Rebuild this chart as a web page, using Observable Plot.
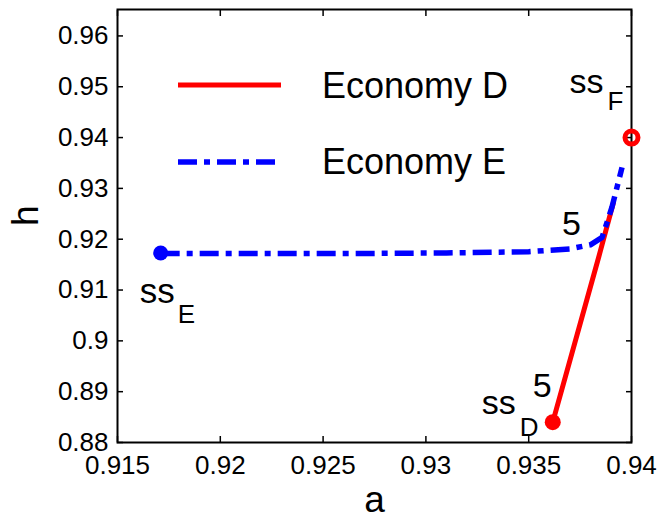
<!DOCTYPE html>
<html><head><meta charset="utf-8">
<script src="https://cdn.jsdelivr.net/npm/d3@7"></script>
<script src="https://cdn.jsdelivr.net/npm/@observablehq/plot@0.6"></script>
<style>
body{margin:0;background:#fff}
#chart{position:relative;width:659px;height:518px}
</style>
</head><body><div id="chart"></div>
<script>
// ---- data ----
const seriesNames = ["Economy D", "Economy E"];
const seriesColors = ["#ff0000", "#0000ff"];
// Economy D path (a, h)
const dA = [0.93617, 0.9384, 0.93912];
const dH = [0.8840, 0.9164, 0.9272];
// Economy E path (a, h)
const eA = [0.9171, 0.9220, 0.9270, 0.9310, 0.9350, 0.9370, 0.9380, 0.93857, 0.93905, 0.93954];
const eH = [0.9172, 0.9172, 0.9172, 0.9173, 0.91755, 0.9181, 0.9189, 0.92035, 0.9263, 0.93413];
// steady states
const ssNames = ["E", "D", "F"];
const ssA = [0.9171, 0.93617, 0.9400];
const ssH = [0.9173, 0.8840, 0.9400];
// period-5 markers
const periodLabel = "5";
// ticks
const xTicks = [0.915, 0.92, 0.925, 0.93, 0.935, 0.94];
const xTickLabels = ["0.915", "0.92", "0.925", "0.93", "0.935", "0.94"];
const yTicks = [0.88, 0.89, 0.90, 0.91, 0.92, 0.93, 0.94, 0.95, 0.96];
const yTickLabels = ["0.88", "0.89", "0.9", "0.91", "0.92", "0.93", "0.94", "0.95", "0.96"];
const xLabel = "a", yLabel = "h";

const FONT = '"Liberation Sans", Arial, Helvetica, sans-serif';
const dData = dA.map((a, i) => ({a, h: dH[i]}));
const eData = eA.map((a, i) => ({a, h: eH[i]}));
const ss = ssNames.map((n, i) => ({n, a: ssA[i], h: ssH[i]}));
const ssE = [ss[0]], ssD = [ss[1]], ssF = [ss[2]];
const kinkE = [eData[7]];
const dash = "19,7,6,7";

function lbl(data, text, dx, dy, size) {
  return Plot.text(data, {x: "a", y: "h", text: () => text, dx, dy, textAnchor: "start",
    lineAnchor: "bottom", fontSize: size, fill: "#000"});
}

const plot = Plot.plot({
  width: 659, height: 518,
  marginLeft: 117, marginRight: 28, marginTop: 9, marginBottom: 76,
  style: {fontFamily: FONT, background: "#fff", color: "#000", overflow: "visible"},
  x: {domain: [0.915, 0.94], label: null},
  y: {domain: [0.88, 0.9652], label: null},
  marks: [
    Plot.axisX(xTicks, {anchor: "bottom", tickSize: -6, tickPadding: 19, strokeWidth: 1.5,
      tickFormat: d => xTickLabels[xTicks.indexOf(d)], fontSize: 26, label: null}),
    Plot.axisX(xTicks, {anchor: "top", tickSize: -6, strokeWidth: 1.5, fill: "none", label: null}),
    Plot.axisY(yTicks, {anchor: "left", tickSize: -6, tickPadding: 15, strokeWidth: 1.5,
      tickFormat: d => yTickLabels[yTicks.indexOf(d)], fontSize: 26, label: null}),
    Plot.axisY(yTicks, {anchor: "right", tickSize: -6, strokeWidth: 1.5, fill: "none", label: null}),
    Plot.frame({stroke: "#000", strokeWidth: 2}),
    Plot.line(dData, {x: "a", y: "h", stroke: seriesColors[0], strokeWidth: 5}),
    Plot.line(eData, {x: "a", y: "h", stroke: seriesColors[1], strokeWidth: 5.5,
      strokeDasharray: dash, strokeLinecap: "butt"}),
    Plot.dot(ssE, {x: "a", y: "h", r: 7.5, fill: seriesColors[1]}),
    Plot.dot(ssD, {x: "a", y: "h", r: 8, fill: seriesColors[0]}),
    Plot.dot(ssF, {x: "a", y: "h", r: 6.5, stroke: seriesColors[0], strokeWidth: 5, fill: "none"}),
    lbl(ssE, "ss", -21, 50, 35), lbl(ssE, ssNames[0], 17, 70, 26),
    lbl(ssD, "ss", -71, -8, 34), lbl(ssD, ssNames[1], -33, 14, 26),
    lbl(ssF, "ss", -62, -45, 34), lbl(ssF, ssNames[2], -24, -28, 26),
    lbl(kinkE, periodLabel, -40, -2, 34),
    lbl(ssD, periodLabel, -20, -25, 34),
    Plot.text([xLabel], {frameAnchor: "bottom", text: d => d, dy: 69, lineAnchor: "bottom", fontSize: 37, fill: "#000"}),
    Plot.text([yLabel], {frameAnchor: "left", text: d => d, dx: -80, rotate: -90, lineAnchor: "bottom", fontSize: 37, fill: "#000"})
  ]
});
document.getElementById("chart").appendChild(plot);

// ---- legend (inside plot, top-left) ----
const svg = d3.select(plot);
const lg = svg.append("g").attr("font-family", FONT).attr("text-anchor", "start");
const legendY = [85, 162], textY = [98, 174];
seriesNames.forEach((name, i) => {
  lg.append("line").attr("x1", 178).attr("x2", i === 0 ? 281 : 277)
    .attr("y1", legendY[i]).attr("y2", legendY[i])
    .attr("stroke", seriesColors[i]).attr("stroke-width", i === 0 ? 5 : 5.5)
    .attr("stroke-dasharray", i === 0 ? null : dash);
  lg.append("text").attr("x", 322).attr("y", textY[i]).attr("font-size", 36)
    .attr("text-anchor", "start").attr("fill", "#000").text(name);
});
</script>
</body></html>
